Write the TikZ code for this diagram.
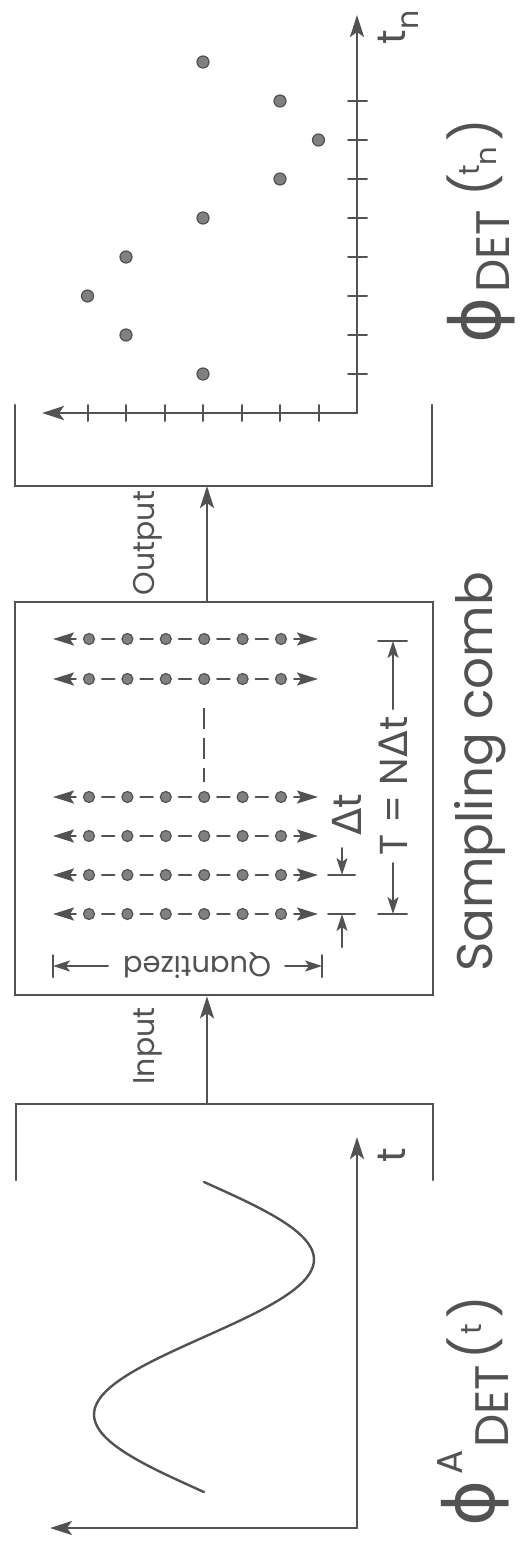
\documentclass[tikz,border=0pt]{standalone}
\usepackage{fontspec}
\setmainfont{Poppins}
\newfontfamily\mygreek{DejaVu Sans}
\usetikzlibrary{arrows.meta}
\definecolor{ink}{gray}{0.32}
\definecolor{dotgray}{gray}{0.5}
\tikzset{
  frame/.style={draw=ink, line width=2.6pt},
  axisline/.style={draw=ink, line width=2.4pt, -{Stealth[length=22pt,width=14pt,inset=5pt]}},
  flow/.style={draw=ink, line width=2.6pt, -{Stealth[length=22pt,width=14pt,inset=5pt]}},
  combarrow/.style={draw=ink, line width=2.2pt, shorten <=7pt, -{Stealth[length=21pt,width=13pt,inset=4pt]}},
  combdash/.style={draw=ink, line width=2.6pt, shorten <=7pt, shorten >=7pt},
  dimline/.style={draw=ink, line width=2pt, -{Stealth[length=17pt,width=11pt,inset=4pt]}},
  bar/.style={draw=ink, line width=2pt},
  tickline/.style={draw=ink, line width=2pt},
  combdot/.style={circle, fill=dotgray, draw=ink, line width=1.2pt, minimum size=11pt, inner sep=0pt},
  plotdot/.style={circle, fill=dotgray, draw=ink, line width=1.2pt, minimum size=12pt, inner sep=0pt},
  lbl/.style={text=ink, inner sep=0pt, rotate=90, anchor=center},
  txt/.style={text=ink, inner sep=0pt, anchor=center},
}
\begin{document}
\begin{tikzpicture}[x=1pt,y=-1pt,line cap=round]
\useasboundingbox (0,0) rectangle (521,1544);

% ---------- sampling comb box ----------
\node[frame, minimum width=418pt, minimum height=393pt, inner sep=0pt] (comb) at (224,798.5) {};

\foreach \r/\yy in {1/639, 2/679, 3/797, 4/836, 5/875, 6/914} {
  \foreach \k in {0,...,5} {
    \node[combdot] (r\r-\k) at ({89+38.4*\k}, \yy) {};
  }
  \coordinate (r\r-L) at (53,\yy);
  \coordinate (r\r-R) at (318,\yy);
  \draw[combarrow] (r\r-0) -- (r\r-L);
  \draw[combarrow] (r\r-5) -- (r\r-R);
  \foreach \k in {0,...,4} {
    \pgfmathtruncatemacro{\kk}{\k+1}
    \draw[combdash] (r\r-\k) -- (r\r-\kk);
  }
}
\coordinate (vd1) at (204,708);
\coordinate (vd2) at (204,782);
\draw[ink, line width=2.6pt, line cap=butt, dash pattern=on 21pt off 9pt] (vd1) -- (vd2);

% Quantized dimension
\draw[bar] (53,955) -- (53,977);
\draw[bar] (322,955) -- (322,977);
\coordinate (qL) at (53,966);
\coordinate (qR) at (322,966);
\draw[dimline] (108,966) -- (qL);
\draw[dimline] (285,966) -- (qR);
\node[txt, rotate=180, font={\fontsize{29}{29}\selectfont}] (qlbl) at (197,966) {Quantized};

% Delta t dimension
\draw[bar] (328,875) -- (355,875);
\draw[bar] (328,914) -- (355,914);
\coordinate (dtA) at (342,875);
\coordinate (dtB) at (342,914);
\draw[dimline] (342,848) -- (dtA);
\draw[dimline] (342,947) -- (dtB);
\node[lbl, font={\fontsize{40}{40}\selectfont}] (dtlbl) at (347,815) {{\mygreek Δ}t};

% T = N Delta t dimension
\draw[bar] (378,641) -- (407,641);
\draw[bar] (378,914) -- (407,914);
\coordinate (TA) at (393,641);
\coordinate (TB) at (393,914);
\draw[dimline] (393,709) -- (TA);
\draw[dimline] (393,863) -- (TB);
\node[lbl, font={\fontsize{39}{39}\selectfont}] (Tlbl) at (393,786) {T = N{\mygreek Δ}t};

\node[lbl, font={\fontsize{50}{50}\selectfont}] (title) at (480,772) {Sampling comb};

% ---------- brackets and flow arrows ----------
\draw[frame] (15,405) -- (15,486) -- (432,486) -- (432,405);
\draw[frame] (16,1180) -- (16,1104) -- (433,1104) -- (433,1180);
\coordinate (inA) at (207,1104);
\coordinate (outB) at (207,486);
\draw[flow] (inA) -- (inA |- comb.south);
\draw[flow] (outB |- comb.north) -- (outB);
\node[lbl, font={\fontsize{30}{30}\selectfont}] (outlbl) at (148,543) {Output};
\node[lbl, font={\fontsize{30}{30}\selectfont}] (inlbl) at (148,1046) {Input};

% ---------- input plot ----------
\coordinate (o1) at (357,1528);
\coordinate (t1) at (357,1137);
\coordinate (v1) at (50,1528);
\draw[axisline] (o1) -- (t1);
\draw[axisline] (o1) -- (v1);
\draw[ink, line width=2.4pt] plot[domain=0:310, samples=90, smooth] ({204+110*sin((\x/310)*360)}, {1182+\x});
\node[lbl, font={\fontsize{40}{40}\selectfont}] (tlbl) at (392,1155) {t};

\node[lbl, font={\mygreek\fontsize{70}{70}\selectfont}] (phiA) at (475,1503) {ϕ};
\node[lbl, font={\fontsize{36}{36}\selectfont}] (supA) at (450,1462) {A};
\node[lbl, font={\fontsize{47}{47}\selectfont}] (detA) at (492,1406) {DET};
\node[lbl, font={\fontsize{50}{50}\selectfont}] (lpA) at (475,1348) {(};
\node[lbl, font={\fontsize{29}{29}\selectfont}] (tA) at (472,1329) {t};
\node[lbl, font={\fontsize{50}{50}\selectfont}] (rpA) at (475,1307) {)};

% ---------- output plot ----------
\coordinate (o2) at (357,413);
\coordinate (t2) at (357,15);
\coordinate (v2) at (42,413);
\draw[axisline] (o2) -- (t2);
\draw[axisline] (o2) -- (v2);
\foreach \j in {1,...,8} \draw[tickline] (348,{413-39*\j}) -- (367,{413-39*\j});
\foreach \j in {1,...,7} \draw[tickline] ({357-38.5*\j},405) -- ({357-38.5*\j},421);
\foreach \j/\m in {1/4,2/6,3/7,4/6,5/4,6/2,7/1,8/2,9/4}
  \node[plotdot] (s\j) at ({357-38.5*\m},{413-39*\j}) {};
\node[lbl, font={\fontsize{40}{40}\selectfont}] (tnt) at (392,37) {t};
\node[lbl, font={\fontsize{30}{30}\selectfont}] (tnn) at (410,20) {n};

\node[lbl, font={\mygreek\fontsize{70}{70}\selectfont}] (phiB) at (481,320) {ϕ};
\node[lbl, font={\fontsize{47}{47}\selectfont}] (detB) at (493,251) {DET};
\node[lbl, font={\fontsize{50}{50}\selectfont}] (lpB) at (475,185) {(};
\node[lbl, font={\fontsize{29}{29}\selectfont}] (tB) at (470,170) {t};
\node[lbl, font={\fontsize{29}{29}\selectfont}] (nB) at (488,156) {n};
\node[lbl, font={\fontsize{50}{50}\selectfont}] (rpB) at (475,130) {)};
\end{tikzpicture}
\end{document}
